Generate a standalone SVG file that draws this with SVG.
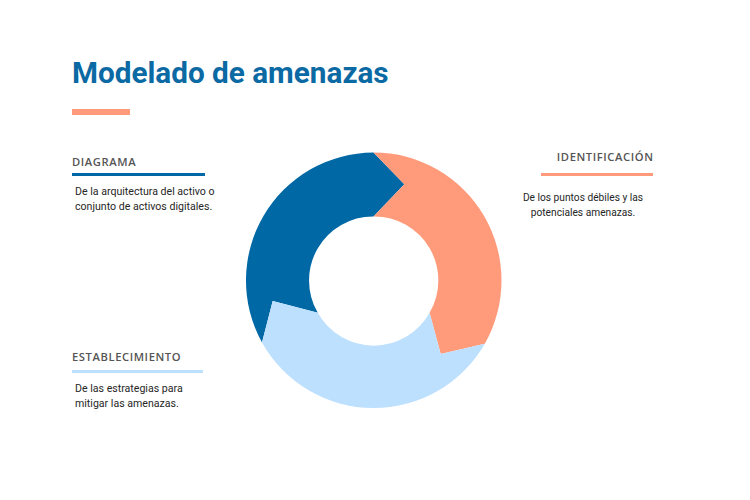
<svg xmlns="http://www.w3.org/2000/svg" width="750" height="500" viewBox="0 0 750 500">
<style>
.title{font-family:Roboto,"Liberation Sans",sans-serif;font-weight:700;font-size:29.7px;fill:#0B69A3}
.head{font-family:"Open Sans","Noto Sans",sans-serif;font-weight:600;font-size:11.2px;fill:#555;letter-spacing:0.6px}
.body{font-family:Roboto,"Liberation Sans",sans-serif;font-size:10.6px;fill:#262626}
.bodyr{font-family:Roboto,"Liberation Sans",sans-serif;font-size:10.2px;fill:#262626}
</style>
<rect width="750" height="500" fill="#fff"/>
<text class="title" x="72" y="83">Modelado de amenazas</text>
<rect x="72" y="109" width="58" height="6" fill="#FF9B7B"/>
<g id="donut">
<path id="seg-diagrama" d="M262 342.5 A128 128 0 0 1 373.5 152.5 L404.3 184.3 L373.5 216.5 A64 64 0 0 0 317.8 312.8 L272.7 301 Z" fill="#0068A5"/>
<path id="seg-identificacion" d="M373.5 152.5 A128 128 0 0 1 484.8 343.7 L440.7 354 L429.6 312.8 A64 64 0 0 0 373.5 216.5 L404.3 184.3 Z" fill="#FF9B7B"/>
<path id="seg-establecimiento" d="M484.8 343.7 A128 128 0 0 1 262 342.5 L272.7 301 L317.8 312.8 A64 64 0 0 0 429.6 312.8 L440.7 354 Z" fill="#BDE0FE"/>
</g>
<g id="diagrama">
<text class="head" x="72" y="166">DIAGRAMA</text>
<rect x="72" y="173" width="133" height="3" fill="#0068A5"/>
<text class="body" x="75" y="195">De la arquitectura del activo o</text>
<text class="body" x="75" y="210">conjunto de activos digitales.</text>
</g>
<g id="identificacion">
<text class="head" x="653.5" y="161" text-anchor="end">IDENTIFICACIÓN</text>
<rect x="541" y="173" width="112" height="3" fill="#FF9B7B"/>
<text class="bodyr" x="583" y="201" text-anchor="middle">De los puntos débiles y las</text>
<text class="bodyr" x="583" y="216" text-anchor="middle">potenciales amenazas.</text>
</g>
<g id="establecimiento">
<text class="head" x="72" y="361">ESTABLECIMIENTO</text>
<rect x="72" y="370" width="131" height="3" fill="#BDE0FE"/>
<text class="body" x="75" y="392">De las estrategias para</text>
<text class="body" x="75" y="407">mitigar las amenazas.</text>
</g>
</svg>
